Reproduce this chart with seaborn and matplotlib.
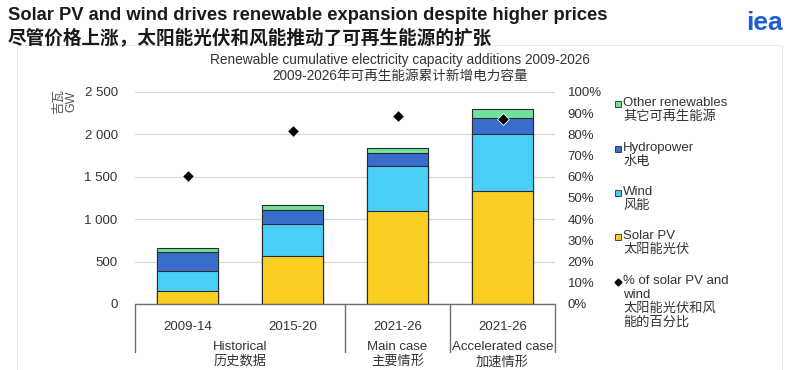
import numpy as np
import pandas as pd
import seaborn as sns
import matplotlib.pyplot as plt
from matplotlib.patches import Rectangle
from matplotlib.lines import Line2D

# données (GW)
period_keys = ['hist_1', 'hist_2', 'main', 'accel']
period_labels = ['2009-14', '2015-20', '2021-26', '2021-26']
group_labels = ['Historical\n历史数据', 'Main case\n主要情形', 'Accelerated case\n加速情形']
group_sizes = [2, 1, 1]

solar = [158, 561, 1091, 1336]
wind = [237, 385, 534, 672]
hydro = [217, 160, 158, 190]
other = [44, 59, 55, 98]
share_solar_wind = [60.2, 81.4, 88.5, 87.4]

series_names = ['Solar PV', 'Wind', 'Hydropower', 'Other renewables']
series_colors = ['#FBCF22', '#47CFF7', '#3A6CCC', '#6FE39A']
legend_labels = {
    'Other renewables': 'Other renewables\n其它可再生能源',
    'Hydropower': 'Hydropower\n水电',
    'Wind': 'Wind\n风能',
    'Solar PV': 'Solar PV\n太阳能光伏',
}

# %%
sns.set_style('white')
plt.rcParams['font.family'] = ['Liberation Sans', 'Noto Sans CJK SC']
text_color = '#333333'

df = pd.DataFrame({'period': period_keys, 'Solar PV': solar, 'Wind': wind,
                   'Hydropower': hydro, 'Other renewables': other})
cum = df[series_names].cumsum(axis=1)
cum['period'] = df['period']

fig = plt.figure(figsize=(8, 3.7), dpi=100)
ax = fig.add_axes([135 / 800, 1 - 304 / 370, 420 / 800, 212 / 370])

# barres empilées : on dessine les cumuls du haut vers le bas
for name, color in reversed(list(zip(series_names, series_colors))):
    sns.barplot(data=cum, x='period', y=name, order=period_keys, color=color,
                width=0.58, edgecolor='#2b2b2b', linewidth=0.8, saturation=1,
                ax=ax, zorder=2)

ax.set_ylim(0, 2500)
ax.set_yticks(np.arange(0, 2501, 500))
ax.set_yticklabels([f'{v:,}'.replace(',', ' ') for v in range(0, 2501, 500)])
ax.yaxis.grid(True, color='#d9d9d9', linewidth=0.9)
ax.set_axisbelow(True)
ax.set_xlabel('')
ax.set_ylabel('')

# part solaire + éolien sur l'axe de droite
ax2 = ax.twinx()
sns.stripplot(x=period_keys, y=share_solar_wind, order=period_keys, jitter=False,
              marker='D', color='black', size=6, edgecolor='white', linewidth=0.6,
              ax=ax2, zorder=5)
ax2.set_ylim(0, 100)
ax2.set_yticks(np.arange(0, 101, 10))
ax2.set_yticklabels([f'{v}%' for v in range(0, 101, 10)])
ax.set_xlim(-0.5, len(period_keys) - 0.5)
ax2.set_xlim(-0.5, len(period_keys) - 0.5)

for a in (ax, ax2):
    for s in ['top', 'left', 'right', 'bottom']:
        a.spines[s].set_visible(False)
    a.tick_params(length=0, labelsize=9.5, colors=text_color)
ax.tick_params(axis='y', pad=12.5)
ax2.tick_params(axis='y', pad=9)
ax.set_xticks(range(len(period_keys)))
ax.set_xticklabels(period_labels, fontsize=9.5, color=text_color)
ax.tick_params(axis='x', pad=12)

# axe des catégories avec séparateurs de groupes
trans = ax.get_xaxis_transform()
ax.plot([-0.5, len(period_keys) - 0.5], [0, 0], transform=trans,
        color='#6e6e6e', linewidth=1, clip_on=False, zorder=6)
bounds = np.concatenate([[0], np.cumsum(group_sizes)]) - 0.5
for b in bounds:
    ax.plot([b, b], [0, -0.227], transform=trans, color='#6e6e6e',
            linewidth=1, clip_on=False)
for lbl, lo, hi in zip(group_labels, bounds[:-1], bounds[1:]):
    ax.text((lo + hi) / 2, -0.175, lbl, transform=trans, ha='center', va='top',
            fontsize=9.5, color=text_color, linespacing=1.25)

# légende dessinée à la main
legend_y = [104, 149, 193, 237]
for (name, color), y in zip(reversed(list(zip(series_names, series_colors))), legend_y):
    fig.patches.append(Rectangle((615 / 800, 1 - (y + 3) / 370), 6 / 800, 6 / 370,
                                 transform=fig.transFigure, facecolor=color,
                                 edgecolor='#2b2b2b', linewidth=0.6))
    fig.text(623 / 800, 1 - (y - 7) / 370, legend_labels[name], fontsize=9.5,
             color=text_color, va='top', linespacing=1.2)
fig.lines.append(Line2D([618 / 800], [1 - 282 / 370], marker='D', markersize=3.5,
                        color='black', transform=fig.transFigure))
fig.text(623 / 800, 1 - 275 / 370, '% of solar PV and\nwind\n太阳能光伏和风\n能的百分比',
         fontsize=9.5, color=text_color, va='top', linespacing=1.2)

# titres
fig.text(8 / 800, 1 - 15 / 370, 'Solar PV and wind drives renewable expansion despite higher prices',
         fontsize=13.2, fontweight='bold', color='#1a1a1a', va='center')
fig.text(8 / 800, 1 - 38 / 370, '尽管价格上涨，太阳能光伏和风能推动了可再生能源的扩张',
         fontsize=13.4, fontweight='bold', color='#1a1a1a', va='center')
fig.text(783 / 800, 1 - 23 / 370, 'iea', fontsize=19, fontweight='bold',
         color='#1e5cd8', ha='right', va='center')
fig.text(400 / 800, 1 - 60 / 370, 'Renewable cumulative electricity capacity additions 2009-2026',
         fontsize=9.8, color=text_color, ha='center', va='center')
fig.text(400 / 800, 1 - 76 / 370, '2009-2026年可再生能源累计新增电力容量',
         fontsize=9.8, color=text_color, ha='center', va='center')
fig.text(65 / 800, 1 - 101 / 370, '吉瓦\nGW', fontsize=9, color='#555555',
         rotation=90, ha='center', va='center', linespacing=1.0)

# cadre du panneau
fig.patches.append(Rectangle((17 / 800, -0.01), 765 / 800, 1 - 45 / 370 + 0.01,
                             transform=fig.transFigure, fill=False,
                             edgecolor='#e6e6e6', linewidth=0.8))

fig.savefig('out.png', dpi=100)
